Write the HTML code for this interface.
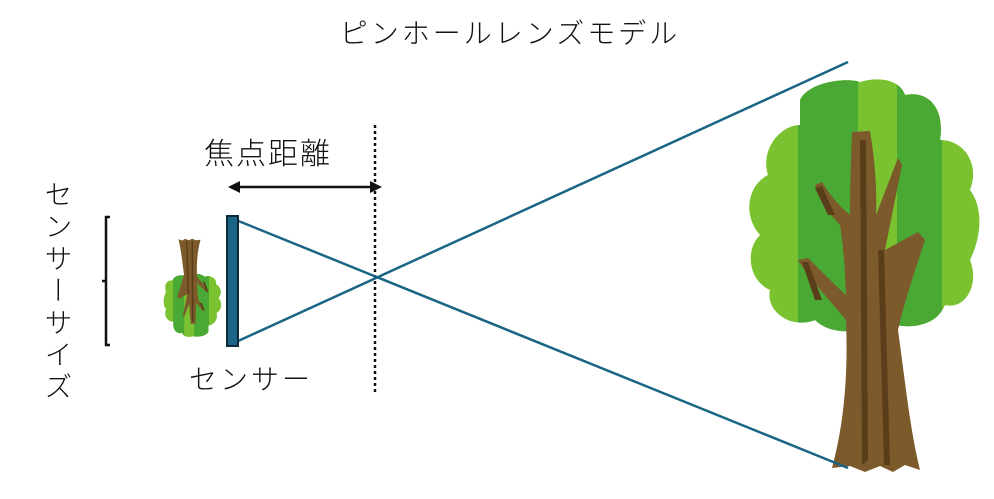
<!DOCTYPE html>
<html><head><meta charset="utf-8"><style>
body{margin:0;background:#fff;}
svg{display:block;}
text{font-family:"Liberation Sans","Noto Sans CJK JP",sans-serif;fill:#111;font-weight:300;}
</style></head><body>
<svg width="994" height="499" viewBox="0 0 994 499" xmlns="http://www.w3.org/2000/svg">
<defs>
<clipPath id="fol"><path d="M800,100 C810,80 850,78 860,82 C880,76 900,80 905,95 C930,90 945,110 940,140 C965,140 980,165 970,190 C985,210 980,240 970,260 C980,285 965,310 945,305 C935,330 900,330 880,320 C860,335 830,335 815,320 C790,330 765,310 770,290 C748,280 745,250 760,235 C742,215 748,185 768,175 C760,150 780,125 800,125 Z"/></clipPath>
<g id="tree">
<g clip-path="url(#fol)">
<rect x="740" y="70" width="250" height="270" fill="#7ac22f"/>
<rect x="798" y="70" width="60" height="270" fill="#4aa834"/>
<rect x="897" y="70" width="45" height="270" fill="#4aa834"/>
</g>
<path d="M852,132 L870,131 C875,160 877,190 876,215 L898,158 L902,165 C895,200 890,225 885,250 L918,232 L925,240 C915,270 905,300 898,330 C905,380 910,430 920,470 L905,465 L893,472 L880,466 L865,472 L850,466 L832,468 C845,420 848,370 846,320 C830,300 810,280 798,260 L808,258 C820,270 835,285 846,295 C845,265 843,245 840,225 C830,215 820,200 815,185 L822,182 C830,195 838,205 850,215 C850,185 851,160 852,132 Z" fill="#7d5a2c"/>
<path d="M860,140 L866,140 L868,460 L862,465 Z" fill="#5a3e1a"/>
<path d="M878,250 L884,250 L890,465 L884,465 Z" fill="#5a3e1a"/>
<path d="M815,188 L822,186 L835,215 L828,215 Z" fill="#5a3e1a"/>
<path d="M802,262 L808,262 L822,300 L815,300 Z" fill="#5a3e1a"/>
</g>
</defs>
<use href="#tree"/>
<use href="#tree" transform="translate(193,288) rotate(180) scale(0.25) translate(-862,-275)"/>
<text x="510" y="43" font-size="28" text-anchor="middle" letter-spacing="3">ピンホールレンズモデル</text>
<text x="268" y="164" font-size="30" text-anchor="middle" letter-spacing="2">焦点距離</text>
<text x="251" y="389" font-size="28" text-anchor="middle" letter-spacing="3">センサー</text>
<text x="57" y="180" font-size="28" style="writing-mode:vertical-rl" letter-spacing="4">センサーサイズ</text>
<line x1="375" y1="125" x2="375" y2="395" stroke="#111" stroke-width="2.5" stroke-dasharray="3,3"/>
<line x1="238" y1="187" x2="372" y2="187" stroke="#111" stroke-width="2.5"/>
<polygon points="228,187 240,181 240,193" fill="#111"/>
<polygon points="382,187 370,181 370,193" fill="#111"/>
<path d="M110,217 L106,217 L106,345 L110,345 M106,281 L102,281" stroke="#111" stroke-width="2.5" fill="none"/>
<g stroke="#1a6585" stroke-width="2.5" fill="none">
<line x1="236" y1="220" x2="848" y2="468"/>
<line x1="236" y1="342" x2="848" y2="62"/>
</g>
<rect x="227" y="216" width="11" height="130" fill="#1a6585" stroke="#0c2b3a" stroke-width="2"/>
</svg>
</body></html>
